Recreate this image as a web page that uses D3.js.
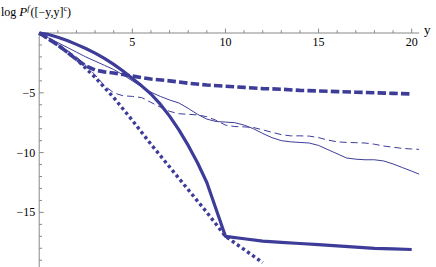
<!DOCTYPE html>
<html>
<head>
<meta charset="utf-8">
<script src="https://cdn.jsdelivr.net/npm/d3@7"></script>
<style>
  html, body { margin: 0; padding: 0; background: #fff; }
  svg text { font-family: "Liberation Serif", "DejaVu Serif", serif; fill: #000; }
</style>
</head>
<body>
<svg id="chart" width="436" height="267"></svg>
<script>
// values
const xTicks = [5, 10, 15, 20];
const yTicks = [-5, -10, -15];

const thickSolidX = [0, 0.5, 1, 1.5, 2, 2.5, 3, 3.5, 4, 4.5, 5, 5.5, 6, 6.5, 7, 7.5, 8, 8.5, 9, 10, 11, 12, 13, 14, 15, 16, 17, 18, 19, 20];
const thickSolidY = [0, -0.12, -0.35, -0.62, -0.95, -1.3, -1.68, -2.12, -2.62, -3.18, -3.8, -4.42, -5.1, -5.95, -6.95, -8.1, -9.4, -10.85, -12.5, -17.0, -17.2, -17.4, -17.5, -17.6, -17.7, -17.8, -17.9, -18.0, -18.05, -18.1];

const thickDashX = [0, 1, 2, 2.5, 3, 3.5, 4, 5, 6, 7, 8, 9, 10, 11, 12, 13, 14, 15, 16, 17, 18, 19, 20];
const thickDashY = [0, -1.0, -2.2, -2.75, -3.1, -3.25, -3.35, -3.6, -3.85, -4.0, -4.2, -4.35, -4.45, -4.55, -4.65, -4.7, -4.8, -4.85, -4.9, -4.95, -5.0, -5.05, -5.1];

const dottedX = [0, 1, 2, 3, 4, 5, 6, 7, 8, 9, 10, 11, 12];
const dottedY = [0, -1.0, -2.2, -3.7, -5.4, -7.3, -9.3, -11.2, -13.1, -15.0, -17.0, -18.1, -19.2];

const thinSolidX = [0, 0.5, 1, 1.5, 2, 2.5, 3, 3.5, 4, 4.5, 5, 5.5, 6, 6.5, 7, 7.5, 8, 8.5, 9, 9.5, 10, 10.5, 11, 11.5, 12, 12.5, 13, 13.5, 14, 14.5, 15, 15.5, 16, 16.5, 17, 17.5, 18, 18.5, 19, 19.5, 20, 20.4];
const thinSolidY = [0, -0.4, -0.8, -1.2, -1.6, -2.0, -2.35, -2.7, -3.05, -3.5, -4.0, -4.5, -4.95, -5.3, -5.6, -5.85, -6.3, -6.8, -7.2, -7.4, -7.45, -7.5, -7.7, -8.0, -8.4, -8.75, -9.0, -9.1, -9.15, -9.2, -9.4, -9.75, -10.1, -10.45, -10.55, -10.6, -10.6, -10.7, -10.95, -11.25, -11.55, -11.8];

const thinDashX = [0, 0.5, 1, 1.5, 2, 2.5, 3, 3.5, 4, 4.5, 5, 5.5, 6, 6.5, 7, 7.5, 8, 8.5, 9, 9.5, 10, 10.5, 11, 11.5, 12, 12.5, 13, 13.5, 14, 14.5, 15, 15.5, 16, 16.5, 17, 17.5, 18, 18.5, 19, 19.5, 20, 20.4];
const thinDashY = [0, -0.45, -0.95, -1.45, -2.0, -2.7, -3.5, -4.4, -5.0, -5.25, -5.3, -5.4, -5.8, -6.2, -6.55, -6.75, -6.8, -6.85, -7.0, -7.3, -7.7, -7.82, -7.85, -7.9, -8.1, -8.3, -8.5, -8.6, -8.6, -8.62, -8.75, -8.95, -9.1, -9.15, -9.17, -9.2, -9.3, -9.45, -9.55, -9.65, -9.7, -9.73];

const color = '#3d3d99';
const axisColor = '#888';

const svg = d3.select('#chart');

const x = d3.scaleLinear().domain([0, 20]).range([39.2, 411.7]);
const y = d3.scaleLinear().domain([0, -15]).range([33, 212.4]);

// clip to the plot region
svg.append('defs')
  .append('clipPath')
  .attr('id', 'plotClip')
  .append('rect')
  .attr('x', x(0) - 5)
  .attr('y', 0)
  .attr('width', x(20.4) - x(0) + 5)
  .attr('height', 267);

// axes
svg.append('line')
  .attr('x1', x(0)).attr('x2', x(20.4))
  .attr('y1', y(0)).attr('y2', y(0))
  .attr('stroke', axisColor);
svg.append('line')
  .attr('x1', x(0)).attr('x2', x(0))
  .attr('y1', y(0)).attr('y2', 267)
  .attr('stroke', axisColor);

const xt = svg.append('g');
xt.selectAll('line')
  .data(d3.range(1, 21))
  .join('line')
  .attr('x1', (d) => x(d)).attr('x2', (d) => x(d))
  .attr('y1', y(0))
  .attr('y2', (d) => y(0) - (d % 5 === 0 ? 4.5 : 2.8))
  .attr('stroke', axisColor);
xt.selectAll('text')
  .data(xTicks)
  .join('text')
  .attr('x', (d) => x(d))
  .attr('y', y(0) + 13)
  .attr('text-anchor', 'middle')
  .attr('font-size', 12)
  .text((d) => d);

const yt = svg.append('g');
yt.selectAll('line')
  .data(d3.range(-1, -20, -1))
  .join('line')
  .attr('x1', x(0))
  .attr('x2', (d) => x(0) + (d % 5 === 0 ? 4.5 : 2.8))
  .attr('y1', (d) => y(d)).attr('y2', (d) => y(d))
  .attr('stroke', axisColor);
yt.selectAll('text')
  .data(yTicks)
  .join('text')
  .attr('x', x(0) - 4)
  .attr('y', (d) => y(d) + 4)
  .attr('text-anchor', 'end')
  .attr('font-size', 12)
  .text((d) => '\u2212' + Math.abs(d));

// axis labels
svg.append('text')
  .attr('x', 424)
  .attr('y', 34)
  .attr('font-size', 13)
  .text('y');

const lab = svg.append('text')
  .attr('x', 1)
  .attr('y', 16)
  .attr('font-size', 12);
lab.append('tspan').text('log ');
lab.append('tspan').attr('font-style', 'italic').attr('font-size', 13).text('P');
lab.append('tspan').attr('font-style', 'italic').attr('font-size', 8).attr('dy', -5).text('f');
lab.append('tspan').attr('dy', 5).attr('dx', 1).text('([\u2212y,y]');
lab.append('tspan').attr('font-size', 8).attr('dy', -5).text('c');
lab.append('tspan').attr('dy', 5).text(')');

// series
const line = d3.line()
  .x((d) => x(d[0]))
  .y((d) => y(d[1]));

const series = [
  { xs: thinSolidX, ys: thinSolidY, width: 1, dash: null },
  { xs: thinDashX, ys: thinDashY, width: 1, dash: '7,4' },
  { xs: dottedX, ys: dottedY, width: 3.4, dash: '3.2,3' },
  { xs: thickDashX, ys: thickDashY, width: 3.6, dash: '8.5,3.2' },
  { xs: thickSolidX, ys: thickSolidY, width: 3.2, dash: null },
];

svg.append('g')
  .attr('clip-path', 'url(#plotClip)')
  .selectAll('path')
  .data(series)
  .join('path')
  .attr('d', (s) => line(s.xs.map((v, i) => [v, s.ys[i]])))
  .attr('fill', 'none')
  .attr('stroke', color)
  .attr('stroke-width', (s) => s.width)
  .attr('stroke-dasharray', (s) => s.dash)
  .attr('stroke-linejoin', 'round');
</script>
</body>
</html>
